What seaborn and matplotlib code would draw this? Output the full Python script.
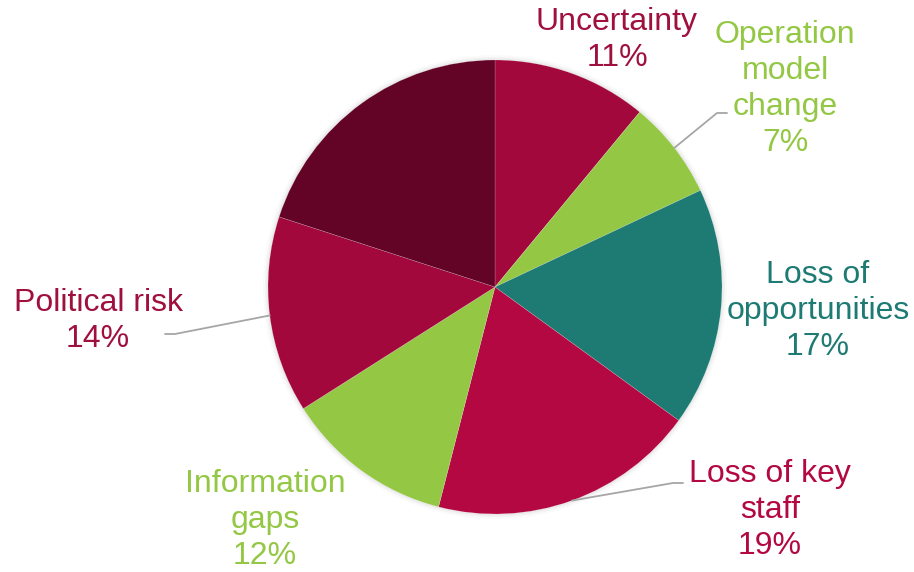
import matplotlib
matplotlib.use("Agg")
import matplotlib.pyplot as plt
import numpy as np
import seaborn as sns

sns.set_theme(style="white")
plt.rcParams["font.family"] = ["Liberation Sans", "DejaVu Sans"]

# Data (clockwise from 12 o'clock)
labels = ["Uncertainty", "Operation\nmodel\nchange", "Loss of\nopportunities",
          "Loss of key\nstaff", "Information\ngaps", "Political risk", ""]
shares = [11, 7, 17, 19, 12, 14, 20]
colors = ["#A3083D", "#93C744", "#1D7B73", "#B30842", "#93C744", "#A3083D", "#630427"]
text_colors = ["#A0103F", "#93C744", "#1D7B73", "#B30842", "#93C744", "#A0103F", None]

# label anchor (pixel coords, y from top) and leader line end
label_pos = [(617, 40), (785, 89), (818, 311), (770, 510), (265, 520), (98, 321), None]
leaders = [None, (727, 113), None, (683, 483), None, (165, 334), None]

W, H = 914, 572
cx, cy, r = 495, 287, 227

fig = plt.figure(figsize=(W / 100, H / 100), dpi=100)
ax = fig.add_axes([0, 0, 1, 1])

# faint shadow
for k, a in zip([5, 3, 1.5], [0.04, 0.06, 0.08]):
    ax.add_patch(plt.Circle((cx, H - cy), r + k, color="#888888", alpha=a, lw=0))

wedges, _ = ax.pie(shares, colors=colors, startangle=90, counterclock=False,
                   radius=r, center=(cx, H - cy), frame=True,
                   wedgeprops=dict(linewidth=0.3, edgecolor="#ffffff60"))
ax.set_xlim(0, W)
ax.set_ylim(0, H)
ax.set_aspect("equal")
ax.axis("off")

for w, lab, share, tc, pos, lead in zip(wedges, labels, shares, text_colors, label_pos, leaders):
    if not lab:
        continue
    ax.text(pos[0], H - pos[1], f"{lab}\n{share}%", color=tc, fontsize=23,
            ha="center", va="center", linespacing=1.25)
    if lead is not None:
        mid = np.deg2rad((w.theta1 + w.theta2) / 2)
        x0, y0 = cx + r * np.cos(mid), (H - cy) + r * np.sin(mid)
        lx, ly = lead
        elbow = lx - 10 if lx > cx else lx + 10
        ax.plot([x0, elbow, lx], [y0, H - ly, H - ly], color="#A6A6A6", lw=1.3)

fig.savefig("out.png", dpi=100)
